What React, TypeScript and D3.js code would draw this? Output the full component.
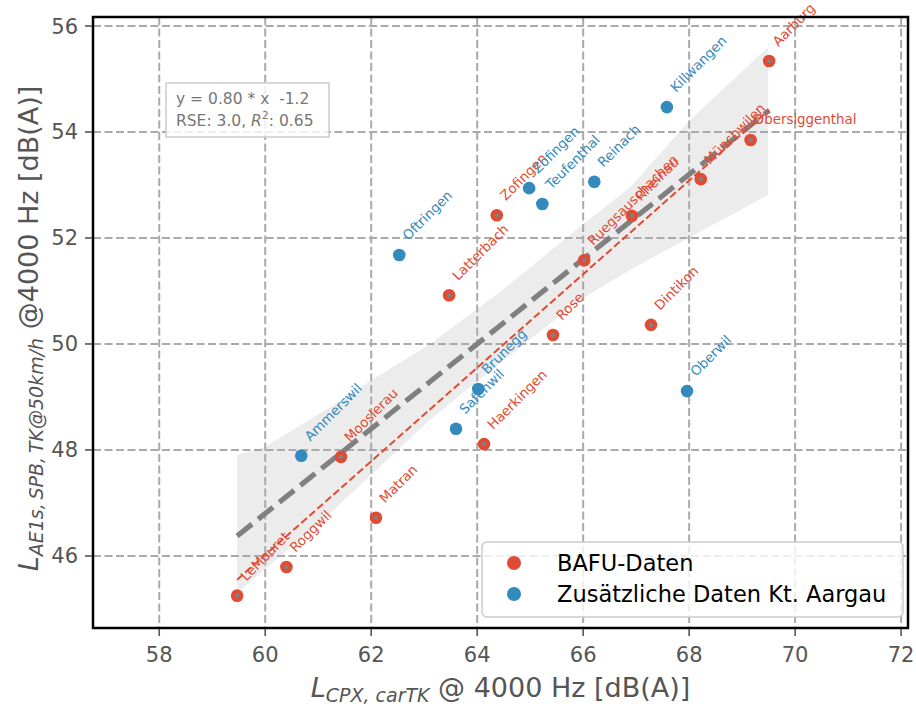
import React from "react";
import * as d3 from "d3";

// BAFU measurements (red)
const bafuNames = [
  "Aarburg", "Obersiggenthal", "Münchwilen", "Rheinau", "Ruegsauschachen",
  "Zofingen", "Latterbach", "Rose", "Dintikon", "Haerkingen",
  "Mooslerau", "Matran", "Roggwil", "LeMouret"
];
const bafuX = [69.51, 69.16, 68.22, 66.92, 66.02, 64.37, 63.47, 65.43, 67.28, 64.13, 61.43, 62.09, 60.40, 59.47];
const bafuY = [55.34, 53.85, 53.11, 52.42, 51.58, 52.43, 50.92, 50.17, 50.36, 48.11, 47.87, 46.72, 45.79, 45.25];

// additional Aargau measurements (blue)
const aargauNames = [
  "Killwangen", "Reinach", "Zofingen", "Teufenthal", "Oftringen",
  "Brunegg", "Safenwil", "Oberwil", "Ammerswil"
];
const aargauX = [67.58, 66.21, 64.98, 65.23, 62.53, 64.02, 63.60, 67.96, 60.68];
const aargauY = [54.47, 53.06, 52.94, 52.64, 51.68, 49.15, 48.40, 49.11, 47.89];

const flatLabels = ["Obersiggenthal"];

// fits
const fitAll = { slope: 0.8, intercept: -1.2 };
const fitBafu = { slope: 0.883, intercept: -6.96 };
const fitRange = [59.47, 69.51];

// confidence band edges
const bandUpperX = [59.47, 59.96, 61.23, 61.98, 63.11, 64.43, 65.94, 66.89, 68.02, 69.49];
const bandUpperY = [47.91, 48.04, 48.81, 49.3, 50.0, 50.98, 52.21, 52.96, 54.23, 55.6];
const bandLowerX = [59.47, 61.23, 63.11, 64.43, 65.94, 66.89, 68.02, 69.49];
const bandLowerY = [45.3, 46.81, 48.57, 49.64, 50.83, 51.4, 52.02, 52.81];

const xTicks = [58, 60, 62, 64, 66, 68, 70, 72];
const yTicks = [46, 48, 50, 52, 54, 56];

const RED = "#E24A33";
const BLUE = "#348ABD";
const TXT = "#555555";
const FONT = "DejaVu Sans";

const W = 916, H = 707;
const L = 93, R = 908, T = 17, B = 628;

export default function App() {
  const x = d3.scaleLinear().domain([56.75, 72.13]).range([L, R]);
  const y = d3.scaleLinear().domain([44.64, 56.17]).range([B, T]);

  const upper = bandUpperX.map((v, i) => [x(v), y(bandUpperY[i])] as [number, number]);
  const lower = bandLowerX.map((v, i) => [x(v), y(bandLowerY[i])] as [number, number]);
  const bandPath = "M" + upper.concat(lower.slice().reverse()).map(p => p.join(",")).join("L") + "Z";

  const fitLine = (f: { slope: number; intercept: number }) =>
    d3.line<number>().x(d => x(d)).y(d => y(f.slope * d + f.intercept))(fitRange) || "";

  const label = (name: string, px: number, py: number, color: string, key: string) => {
    const flat = flatLabels.includes(name);
    const tx = flat ? x(px) + 3 : x(px) + 9;
    const ty = flat ? y(py) - 16 : y(py) - 14;
    return (
      <text key={key} transform={`translate(${tx},${ty}) rotate(${flat ? 0 : -45})`}
        fontSize={13.4} fill={color} fontFamily={FONT}>{name}</text>
    );
  };

  return (
    <svg width={W} height={H} style={{ position: "absolute", left: 0, top: 0 }} fontFamily={FONT}>
      <rect x={0} y={0} width={W} height={H} fill="white" />
      <defs>
        <clipPath id="plot"><rect x={L} y={T} width={R - L} height={B - T} /></clipPath>
      </defs>

      <path d={bandPath} fill="#808080" fillOpacity={0.15} />

      <g stroke="#aaaaaa" strokeWidth={2} strokeDasharray="8,3.5">
        {xTicks.map(t => <line key={"gx" + t} x1={x(t)} x2={x(t)} y1={T} y2={B} />)}
        {yTicks.map(t => <line key={"gy" + t} x1={L} x2={R} y1={y(t)} y2={y(t)} />)}
      </g>

      <g clipPath="url(#plot)">
        <path d={fitLine(fitAll)} stroke="#808080" strokeWidth={5.2} strokeDasharray="19,8" fill="none" />
        <path d={fitLine(fitBafu)} stroke={RED} strokeWidth={2} strokeDasharray="7.5,3.2" fill="none" />

        {bafuX.map((v, i) => (
          <g key={"b" + i}>
            <circle cx={x(v)} cy={y(bafuY[i])} r={6.3} fill={RED} />
            <circle cx={x(v)} cy={y(bafuY[i])} r={2.3} fill="#808080" />
          </g>
        ))}
        {aargauX.map((v, i) => (
          <circle key={"a" + i} cx={x(v)} cy={y(aargauY[i])} r={6.3} fill={BLUE} />
        ))}
      </g>

      {bafuNames.map((n, i) => label(n, bafuX[i], bafuY[i], RED, "lb" + i))}
      {aargauNames.map((n, i) => label(n, aargauX[i], aargauY[i], BLUE, "la" + i))}

      {/* fit annotation */}
      <g>
        <rect x={166} y={83} width={163} height={54} fill="white" fillOpacity={0.8} stroke="#cccccc" strokeWidth={1.5} />
        <text x={176} y={104} fontSize={15.5} fill="#777777" xmlSpace="preserve">{"y = 0.80 * x\u00a0\u00a0-1.2"}</text>
        <text x={176} y={126} fontSize={15.5} fill="#777777">
          RSE: 3.0, <tspan fontStyle="italic">R</tspan>
          <tspan fontSize={11} dy={-7}>2</tspan>
          <tspan dy={7}>: 0.65</tspan>
        </text>
      </g>

      {/* legend */}
      <g>
        <rect x={482} y={542} width={421} height={75} rx={5} fill="white" fillOpacity={0.8} stroke="#cccccc" strokeWidth={1.5} />
        <circle cx={514} cy={563} r={7} fill={RED} />
        <circle cx={514} cy={594} r={7} fill={BLUE} />
        <text x={557} y={571} fontSize={22.5} fill="#000">BAFU-Daten</text>
        <text x={557} y={602} fontSize={22.5} fill="#000">Zusätzliche Daten Kt. Aargau</text>
      </g>

      {/* axes frame */}
      <rect x={L} y={T} width={R - L} height={B - T} fill="none" stroke="#000" strokeWidth={2.5} />

      <g stroke={TXT} strokeWidth={1.6}>
        {xTicks.map(t => <line key={"tx" + t} x1={x(t)} x2={x(t)} y1={B + 1} y2={B + 8} />)}
        {yTicks.map(t => <line key={"ty" + t} x1={L - 8} x2={L - 1} y1={y(t)} y2={y(t)} />)}
      </g>
      <g fontSize={21} fill={TXT}>
        {xTicks.map(t => <text key={"lx" + t} x={x(t)} y={B + 34} textAnchor="middle">{t}</text>)}
        {yTicks.map(t => <text key={"ly" + t} x={L - 15} y={y(t) + 7.5} textAnchor="end">{t}</text>)}
      </g>

      <text x={(L + R) / 2} y={697} textAnchor="middle" fontSize={27} fill={TXT}>
        <tspan fontStyle="italic">L</tspan>
        <tspan fontStyle="italic" fontSize={19} dy={5}>CPX, carTK</tspan>
        <tspan dy={-5}> @ 4000 Hz [dB(A)]</tspan>
      </text>

      <text transform={`translate(38,${(T + B) / 2 + 6}) rotate(-90)`} textAnchor="middle" fontSize={27} fill={TXT}>
        <tspan fontStyle="italic">L</tspan>
        <tspan fontStyle="italic" fontSize={19} dy={5}>{"AE1s,\u2009SPB,\u2009TK@50km/h"}</tspan>
        <tspan dy={-5}> @4000 Hz [dB(A)]</tspan>
      </text>
    </svg>
  );
}
